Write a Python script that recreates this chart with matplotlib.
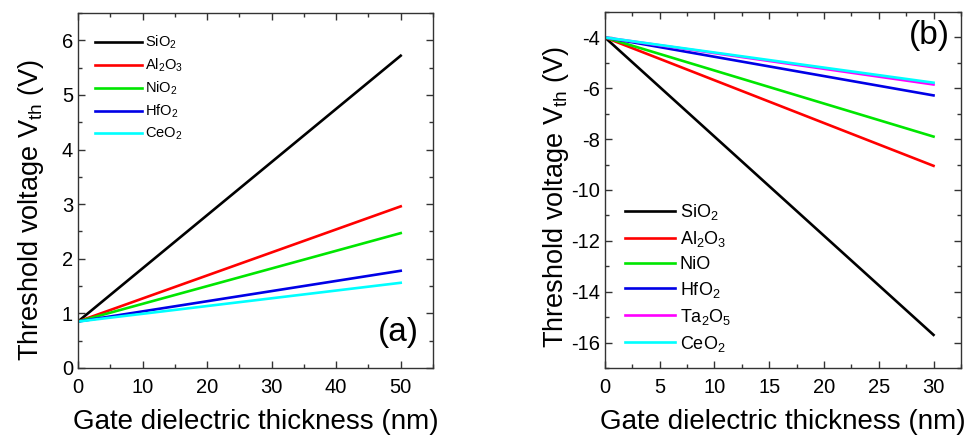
import matplotlib
matplotlib.use("Agg")
import matplotlib.pyplot as plt
from matplotlib.ticker import MultipleLocator

plt.rcParams['font.family'] = ['Liberation Sans', 'DejaVu Sans']
plt.rcParams['mathtext.fontset'] = 'custom'
plt.rcParams['mathtext.rm'] = 'Liberation Sans'
plt.rcParams['mathtext.it'] = 'Liberation Sans'
plt.rcParams['axes.unicode_minus'] = False

# Panel (a)
thick_a = [0, 50]
labels_a = ['SiO$_2$', 'Al$_2$O$_3$', 'NiO$_2$', 'HfO$_2$', 'CeO$_2$']
sio2_a = [0.85, 5.72]
al2o3_a = [0.85, 2.96]
nio2_a = [0.85, 2.47]
hfo2_a = [0.85, 1.78]
ceo2_a = [0.85, 1.56]
colors_a = ['black', '#ff0000', '#00e600', '#0000e6', '#00ffff']

# Panel (b)
thick_b = [0, 30]
labels_b = ['SiO$_2$', 'Al$_2$O$_3$', 'NiO', 'HfO$_2$', 'Ta$_2$O$_5$', 'CeO$_2$']
sio2_b = [-4.0, -15.7]
al2o3_b = [-4.0, -9.05]
nio_b = [-4.0, -7.9]
hfo2_b = [-4.0, -6.28]
ta2o5_b = [-4.0, -5.85]
ceo2_b = [-4.0, -5.78]
colors_b = ['black', '#ff0000', '#00e600', '#0000e6', '#ff00ff', '#00ffff']

fig = plt.figure(figsize=(9.71, 4.37), dpi=100)
axa = fig.add_axes([0.0803, 0.158, 0.3656, 0.812])
axb = fig.add_axes([0.623, 0.158, 0.3666, 0.8145])

for ys, c, lab in zip([sio2_a, al2o3_a, nio2_a, hfo2_a, ceo2_a], colors_a, labels_a):
    axa.plot(thick_a, ys, color=c, lw=1.9, label=lab)
for ys, c, lab in zip([sio2_b, al2o3_b, nio_b, hfo2_b, ta2o5_b, ceo2_b], colors_b, labels_b):
    axb.plot(thick_b, ys, color=c, lw=1.9, label=lab)

axa.set_xlim(0, 55)
axa.set_ylim(0, 6.5)
axa.xaxis.set_major_locator(MultipleLocator(10))
axa.xaxis.set_minor_locator(MultipleLocator(5))
axa.yaxis.set_major_locator(MultipleLocator(1))
axa.yaxis.set_minor_locator(MultipleLocator(0.5))

axb.set_xlim(0, 32.5)
axb.set_ylim(-17, -3)
axb.xaxis.set_major_locator(MultipleLocator(5))
axb.xaxis.set_minor_locator(MultipleLocator(2.5))
axb.yaxis.set_major_locator(MultipleLocator(2))
axb.yaxis.set_minor_locator(MultipleLocator(1))

for ax in (axa, axb):
    ax.tick_params(which='both', direction='in', top=True, right=True, labelsize=14.5, color='#333333')
    ax.tick_params(which='major', length=5, width=1)
    ax.tick_params(which='minor', length=3, width=1)
    for s in ax.spines.values():
        s.set_linewidth(1.0)
        s.set_color('#333333')
    ax.set_xlabel('Gate dielectric thickness (nm)', fontsize=20, labelpad=9)
    ax.set_ylabel('Threshold voltage V$_{\\mathrm{th}}$ (V)', fontsize=19.5, va='center')
    ax.tick_params(axis='x', pad=7)

axa.yaxis.set_label_coords(-0.132, 0.445)
axb.yaxis.set_label_coords(-0.137, 0.48)

axa.legend(loc='upper left', frameon=False, fontsize=10.5, handlelength=3.2,
           handletextpad=0.2, labelspacing=0.38, borderaxespad=0.3, bbox_to_anchor=(0.02, 0.97))
axb.legend(loc='lower left', frameon=False, fontsize=13, handlelength=2.8,
           handletextpad=0.25, labelspacing=0.38, borderaxespad=0.3, bbox_to_anchor=(0.02, 0.005))

axa.text(0.96, 0.10, '(a)', transform=axa.transAxes, fontsize=24, ha='right', va='center')
axb.text(0.97, 0.935, '(b)', transform=axb.transAxes, fontsize=24, ha='right', va='center')

fig.savefig('out.png', dpi=100)
